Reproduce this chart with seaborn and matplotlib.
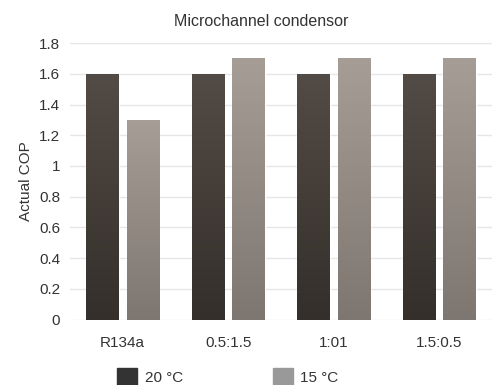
import numpy as np
import pandas as pd
import seaborn as sns
import matplotlib
matplotlib.use("Agg")
import matplotlib.pyplot as plt
from matplotlib.colors import LinearSegmentedColormap
from matplotlib.patches import Patch

# data
refrigerants = ["R134a", "0.5:1.5", "1:01", "1.5:0.5"]
cop_20 = [1.6, 1.6, 1.6, 1.6]
cop_15 = [1.3, 1.7, 1.7, 1.7]
series = ["20 °C", "15 °C"]

df = pd.DataFrame({
    "refrigerant": refrigerants * 2,
    "cop": cop_20 + cop_15,
    "temp": [series[0]] * 4 + [series[1]] * 4,
})

sns.set_theme(style="white")
plt.rcParams["font.family"] = ["Liberation Sans", "DejaVu Sans"]

fig = plt.figure(figsize=(4.92, 3.85), dpi=100)
ax = fig.add_axes([0.142, 0.17, 0.858, 0.718])

sns.barplot(data=df, x="refrigerant", y="cop", hue="temp", order=refrigerants,
            hue_order=series, width=0.77, gap=0.2, ax=ax,
            palette=["#3f3935", "#918882"], legend=False, saturation=1)

# vertical gradient on each bar (bottom colour, top colour)
grads = [("#342f2b", "#534b45"), ("#7e7670", "#a69d96")]
g = np.linspace(0, 1, 256).reshape(-1, 1)
for cont, (bot, top) in zip(ax.containers, grads):
    cmap = LinearSegmentedColormap.from_list("", [bot, top])
    for bar in cont:
        x0, w, h = bar.get_x(), bar.get_width(), bar.get_height()
        ax.imshow(g, cmap=cmap, extent=[x0, x0 + w, 0, h], origin="lower",
                  aspect="auto", zorder=3)

ax.set_xlim(-0.5, 3.5)
ax.set_ylim(0, 1.8)
ax.set_yticks(np.arange(0, 1.81, 0.2))
ax.set_yticklabels(["0", "0.2", "0.4", "0.6", "0.8", "1", "1.2", "1.4", "1.6", "1.8"])
ax.yaxis.grid(True, color="#e6e6e6", linewidth=1)
ax.set_axisbelow(True)
for s in ax.spines.values():
    s.set_visible(False)
ax.tick_params(axis="both", length=0, labelsize=11, colors="#333333")
ax.tick_params(axis="y", pad=7)
ax.tick_params(axis="x", pad=12)
ax.set_xlabel("")
ax.set_ylabel("Actual COP", fontsize=11, color="#333333", labelpad=4)
fig.text(261 / 492, 1 - 22 / 385, "Microchannel condensor", fontsize=11.5,
         color="#333333", ha="center", va="center")

handles = [Patch(color="#333333"), Patch(color="#999999")]
fig.legend(handles, series, loc="upper left", bbox_to_anchor=(0.238, 0.044),
           ncol=2, frameon=False, fontsize=11, handlelength=1.3, handleheight=1.3,
           handletextpad=0.5, columnspacing=5.9, labelcolor="#333333",
           borderaxespad=0, borderpad=0)

fig.savefig("out.png", dpi=100)
